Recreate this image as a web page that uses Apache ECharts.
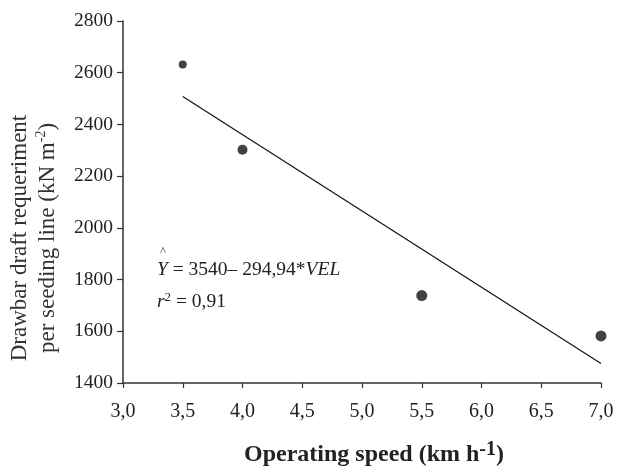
<!DOCTYPE html>
<html><head><meta charset="utf-8">
<script src="https://cdn.jsdelivr.net/npm/echarts@6/dist/echarts.min.js"></script>
<style>html,body{margin:0;padding:0;background:#fff}#c{width:629px;height:466px}</style>
</head><body><div id="c"></div>
<script>
var speeds = [3.5, 4.0, 5.5, 7.0];
var draft = [2632, 2302, 1738, 1582];
var pointSizes = [8, 10, 11, 11];
var fitX = [3.5, 7.0];
var intercept = 3540, slope = -294.94;

var fitData = fitX.map(function(x){ return [x, intercept + slope * x]; });
var ptData = speeds.map(function(x, i){ return {value: [x, draft[i]], symbolSize: pointSizes[i]}; });
var ff = '"Liberation Serif","DejaVu Serif",serif';
var chart = echarts.init(document.getElementById('c'));
chart.setOption({
  animation: false,
  grid: {left: 123, right: 28, top: 21, bottom: 83, containLabel: false, outerBoundsMode: 'none'},
  xAxis: {
    type: 'value', min: 3, max: 7, interval: 0.5,
    axisLine: {show: true, lineStyle: {color: '#333', width: 1.5}},
    axisTick: {show: true, length: 5, lineStyle: {color: '#333', width: 1.2}},
    splitLine: {show: false},
    axisLabel: {fontFamily: ff, fontSize: 20, color: '#222', margin: 19,
      formatter: function(v){ return v.toFixed(1).replace('.', ','); }}
  },
  yAxis: {
    type: 'value', min: 1400, max: 2800, interval: 200,
    axisLine: {show: true, lineStyle: {color: '#333', width: 1.5}},
    axisTick: {show: true, length: 6, lineStyle: {color: '#333', width: 1.2}},
    splitLine: {show: false},
    axisLabel: {fontFamily: ff, fontSize: 19.5, color: '#222', margin: 10,
      formatter: function(v){ return String(v); }}
  },
  series: [
    {type: 'line', data: fitData, symbol: 'none', lineStyle: {color: '#111', width: 1.2}, z: 2},
    {type: 'scatter', data: ptData, itemStyle: {color: '#111'}, z: 3}
  ],
  graphic: [
    {type: 'text', x: 34, y: 238, rotation: Math.PI / 2, style: {
      text: '{t|Drawbar draft requeriment}\n{t|per seeding line (kN m}{s|-2}{t|)}',
      align: 'center', verticalAlign: 'middle', fill: '#333',
      rich: {
        t: {fontFamily: ff, fontSize: 23, fill: '#333', lineHeight: 28},
        s: {fontFamily: ff, fontSize: 14, fill: '#333', lineHeight: 28, verticalAlign: 'top', padding: [0,0,10,0]}
      }
    }},
    {type: 'text', x: 374, y: 455, style: {
      text: '{b|Operating speed (km h}{s|-1}{b|)}',
      align: 'center', verticalAlign: 'middle', fill: '#222',
      rich: {
        b: {fontFamily: ff, fontSize: 24, fontWeight: 'bold', fill: '#222', lineHeight: 30},
        s: {fontFamily: ff, fontSize: 20, fontWeight: 'bold', fill: '#222', lineHeight: 30, verticalAlign: 'top', padding: [0,0,12,0]}
      }
    }},
    {type: 'text', x: 163, y: 252, style: {text: '^', font: '12px ' + ff, fill: '#333', align: 'center', verticalAlign: 'middle'}},
    {type: 'text', x: 157, y: 270, style: {
      text: '{i|Y} = 3540– 294,94*{i|VEL}',
      font: '19.5px ' + ff, fill: '#222', verticalAlign: 'middle',
      rich: {i: {fontStyle: 'italic', fontFamily: ff, fontSize: 19.5, fill: '#222'}}
    }},
    {type: 'text', x: 157, y: 302, style: {
      text: '{i|r}{s|2} = 0,91',
      font: '19.5px ' + ff, fill: '#222', verticalAlign: 'middle',
      rich: {i: {fontStyle: 'italic', fontFamily: ff, fontSize: 19.5}, s: {fontFamily: ff, fontSize: 13, verticalAlign: 'top', padding: [0,0,9,0]}}
    }}
  ]
});
</script></body></html>
